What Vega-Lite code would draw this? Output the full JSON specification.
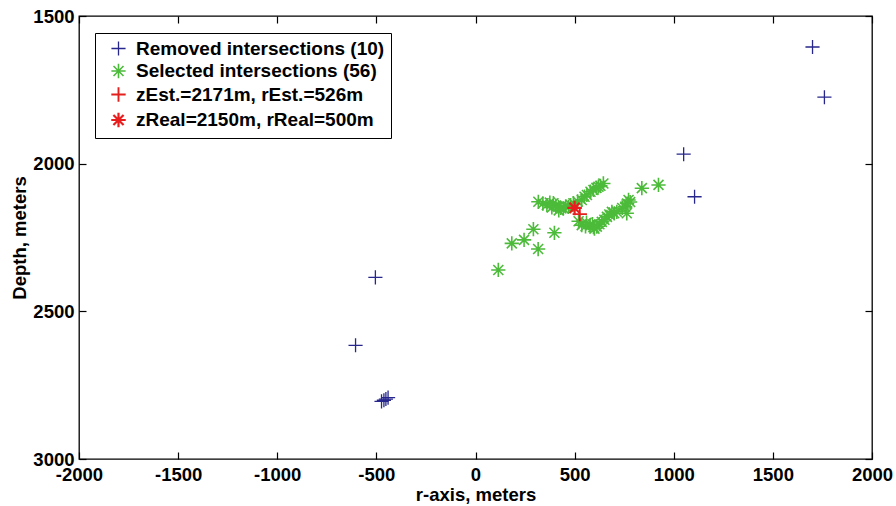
{
  "$schema": "https://vega.github.io/schema/vega-lite/v6.json",
  "width": 793,
  "height": 443,
  "autosize": "none",
  "padding": {"left": 79, "top": 16, "right": 24, "bottom": 47},
  "background": "#ffffff",
  "config": {
    "view": {"stroke": "#000000", "strokeWidth": 1.3},
    "font": "Liberation Sans",
    "axis": {
      "domain": false,
      "grid": false,
      "tickColor": "#000000",
      "tickWidth": 1.2,
      "tickSize": -7,
      "labelFont": "Liberation Sans",
      "labelFontWeight": "bold",
      "labelFontSize": 18.5,
      "labelColor": "#000000",
      "labelOverlap": false,
      "labelFlush": false,
      "labelBound": false,
      "labelExpr": "'' + datum.value",
      "titleFont": "Liberation Sans",
      "titleFontWeight": "bold",
      "titleFontSize": 18.5,
      "titleColor": "#000000"
    },
    "legend": {
      "title": null,
      "orient": "none",
      "legendX": 16,
      "legendY": 17,
      "strokeColor": "#000000",
      "fillColor": "#ffffff",
      "padding": 6,
      "rowPadding": 1.5,
      "symbolOffset": 8,
      "labelOffset": 8,
      "labelFont": "Liberation Sans",
      "labelFontWeight": "bold",
      "labelFontSize": 19,
      "labelColor": "#000000",
      "labelLimit": 400
    }
  },
  "data": {
    "values": [
      {"series": "Removed intersections (10)", "r": 1700, "z": 1605},
      {"series": "Removed intersections (10)", "r": 1760, "z": 1775},
      {"series": "Removed intersections (10)", "r": 1050, "z": 1968},
      {"series": "Removed intersections (10)", "r": 1105, "z": 2112},
      {"series": "Removed intersections (10)", "r": -505, "z": 2385},
      {"series": "Removed intersections (10)", "r": -605, "z": 2615},
      {"series": "Removed intersections (10)", "r": -474, "z": 2805},
      {"series": "Removed intersections (10)", "r": -462, "z": 2801},
      {"series": "Removed intersections (10)", "r": -452, "z": 2797},
      {"series": "Removed intersections (10)", "r": -441, "z": 2792},
      {"series": "Selected intersections (56)", "r": 115, "z": 2360},
      {"series": "Selected intersections (56)", "r": 183, "z": 2270},
      {"series": "Selected intersections (56)", "r": 245, "z": 2258},
      {"series": "Selected intersections (56)", "r": 292, "z": 2222},
      {"series": "Selected intersections (56)", "r": 316, "z": 2289},
      {"series": "Selected intersections (56)", "r": 398, "z": 2234},
      {"series": "Selected intersections (56)", "r": 317, "z": 2129},
      {"series": "Selected intersections (56)", "r": 340, "z": 2135},
      {"series": "Selected intersections (56)", "r": 360, "z": 2140},
      {"series": "Selected intersections (56)", "r": 375, "z": 2132},
      {"series": "Selected intersections (56)", "r": 393, "z": 2134},
      {"series": "Selected intersections (56)", "r": 405, "z": 2142},
      {"series": "Selected intersections (56)", "r": 418, "z": 2146},
      {"series": "Selected intersections (56)", "r": 430, "z": 2150},
      {"series": "Selected intersections (56)", "r": 443, "z": 2151},
      {"series": "Selected intersections (56)", "r": 455, "z": 2145},
      {"series": "Selected intersections (56)", "r": 469, "z": 2146},
      {"series": "Selected intersections (56)", "r": 480, "z": 2140},
      {"series": "Selected intersections (56)", "r": 420, "z": 2158},
      {"series": "Selected intersections (56)", "r": 385, "z": 2148},
      {"series": "Selected intersections (56)", "r": 494, "z": 2134},
      {"series": "Selected intersections (56)", "r": 515, "z": 2128},
      {"series": "Selected intersections (56)", "r": 536, "z": 2123},
      {"series": "Selected intersections (56)", "r": 550, "z": 2112},
      {"series": "Selected intersections (56)", "r": 562, "z": 2106},
      {"series": "Selected intersections (56)", "r": 580, "z": 2095},
      {"series": "Selected intersections (56)", "r": 595, "z": 2089},
      {"series": "Selected intersections (56)", "r": 610, "z": 2082},
      {"series": "Selected intersections (56)", "r": 620, "z": 2078},
      {"series": "Selected intersections (56)", "r": 645, "z": 2067},
      {"series": "Selected intersections (56)", "r": 630, "z": 2075},
      {"series": "Selected intersections (56)", "r": 520, "z": 2195},
      {"series": "Selected intersections (56)", "r": 536, "z": 2208},
      {"series": "Selected intersections (56)", "r": 555, "z": 2212},
      {"series": "Selected intersections (56)", "r": 578, "z": 2208},
      {"series": "Selected intersections (56)", "r": 595, "z": 2215},
      {"series": "Selected intersections (56)", "r": 612, "z": 2213},
      {"series": "Selected intersections (56)", "r": 625, "z": 2205},
      {"series": "Selected intersections (56)", "r": 637, "z": 2197},
      {"series": "Selected intersections (56)", "r": 650, "z": 2190},
      {"series": "Selected intersections (56)", "r": 663, "z": 2180},
      {"series": "Selected intersections (56)", "r": 675, "z": 2172},
      {"series": "Selected intersections (56)", "r": 688, "z": 2163},
      {"series": "Selected intersections (56)", "r": 700, "z": 2168},
      {"series": "Selected intersections (56)", "r": 713, "z": 2163},
      {"series": "Selected intersections (56)", "r": 560, "z": 2200},
      {"series": "Selected intersections (56)", "r": 590, "z": 2205},
      {"series": "Selected intersections (56)", "r": 740, "z": 2150},
      {"series": "Selected intersections (56)", "r": 755, "z": 2146},
      {"series": "Selected intersections (56)", "r": 765, "z": 2135},
      {"series": "Selected intersections (56)", "r": 772, "z": 2123},
      {"series": "Selected intersections (56)", "r": 763, "z": 2168},
      {"series": "Selected intersections (56)", "r": 780, "z": 2130},
      {"series": "Selected intersections (56)", "r": 839, "z": 2083},
      {"series": "Selected intersections (56)", "r": 923, "z": 2072},
      {"series": "Selected intersections (56)", "r": 600, "z": 2220},
      {"series": "zEst.=2171m, rEst.=526m", "r": 526, "z": 2171},
      {"series": "zReal=2150m, rReal=500m", "r": 500, "z": 2150}
    ]
  },
  "resolve": {"axis": {"x": "independent", "y": "independent"}},
  "layer": [
    {
      "mark": {"type": "point", "filled": false, "opacity": 1},
      "encoding": {
        "x": {
          "field": "r",
          "type": "quantitative",
          "scale": {"domain": [-2000, 2000], "nice": false, "zero": false},
          "axis": {
            "orient": "bottom",
            "values": [-2000, -1500, -1000, -500, 0, 500, 1000, 1500, 2000],
            "labelPadding": 13,
            "title": "r-axis, meters",
            "titlePadding": 2
          }
        },
        "y": {
          "field": "z",
          "type": "quantitative",
          "scale": {"domain": [1500, 3000], "reverse": true, "nice": false, "zero": false},
          "axis": {
            "orient": "left",
            "values": [1500, 2000, 2500, 3000],
            "labelPadding": 12,
            "title": "Depth, meters",
            "titlePadding": 3
          }
        },
        "color": {
          "field": "series",
          "type": "nominal",
          "scale": {
            "domain": ["Removed intersections (10)", "Selected intersections (56)", "zEst.=2171m, rEst.=526m", "zReal=2150m, rReal=500m"],
            "range": ["#26268c", "#4cbb3a", "#e3201d", "#e81d1d"]
          }
        },
        "shape": {
          "field": "series",
          "type": "nominal",
          "scale": {
            "domain": ["Removed intersections (10)", "Selected intersections (56)", "zEst.=2171m, rEst.=526m", "zReal=2150m, rReal=500m"],
            "range": [
              "M-1,0L1,0M0,-1L0,1",
              "M-1,0L1,0M0,-1L0,1M-0.7,-0.7L0.7,0.7M-0.7,0.7L0.7,-0.7",
              "M-1,0L1,0M0,-1L0,1",
              "M-1,0L1,0M0,-1L0,1M-0.7,-0.7L0.7,0.7M-0.7,0.7L0.7,-0.7"
            ]
          }
        },
        "size": {
          "field": "series",
          "type": "nominal",
          "scale": {
            "domain": ["Removed intersections (10)", "Selected intersections (56)", "zEst.=2171m, rEst.=526m", "zReal=2150m, rReal=500m"],
            "range": [200, 210, 340, 300]
          }
        },
        "strokeWidth": {
          "field": "series",
          "type": "nominal",
          "scale": {
            "domain": ["Removed intersections (10)", "Selected intersections (56)", "zEst.=2171m, rEst.=526m", "zReal=2150m, rReal=500m"],
            "range": [1.3, 2.2, 3.6, 3.2]
          }
        }
      }
    },
    {
      "mark": {"type": "point", "opacity": 0},
      "encoding": {
        "x": {
          "field": "r",
          "type": "quantitative",
          "axis": {
            "orient": "top",
            "values": [-2000, -1500, -1000, -500, 0, 500, 1000, 1500, 2000],
            "labels": false,
            "title": null
          }
        },
        "y": {
          "field": "z",
          "type": "quantitative",
          "axis": {
            "orient": "right",
            "values": [1500, 2000, 2500, 3000],
            "labels": false,
            "title": null
          }
        }
      }
    }
  ]
}
